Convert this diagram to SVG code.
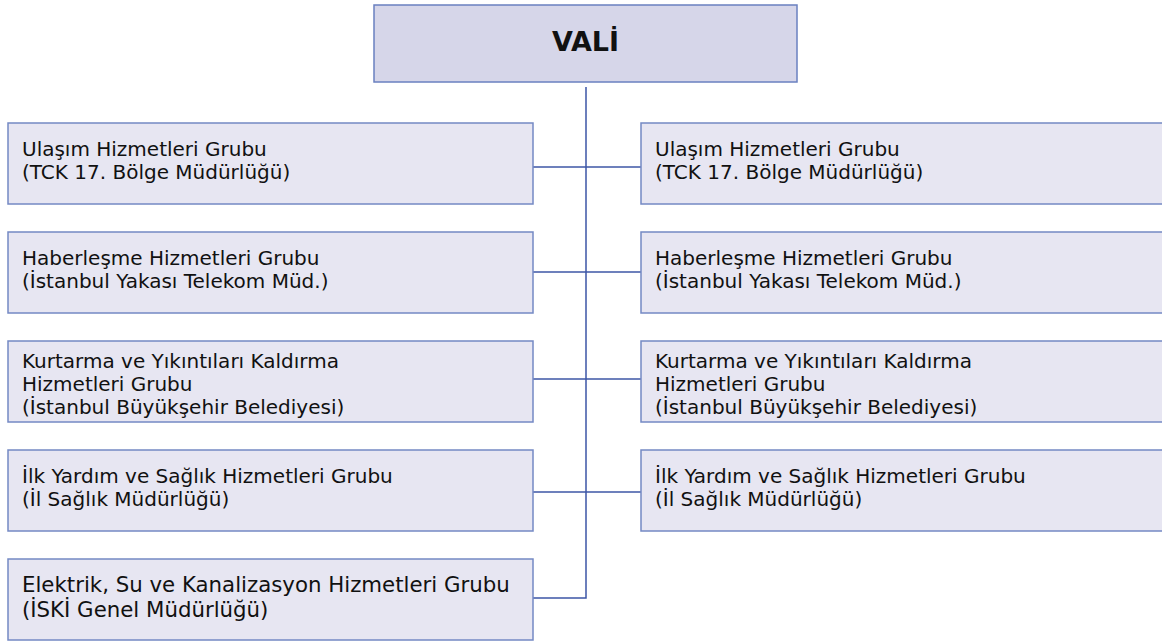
<svg xmlns="http://www.w3.org/2000/svg" width="1162" height="641" viewBox="0 0 1162 641">
<style>
.box{fill:#e7e6f2;stroke:#7489c4;stroke-width:1.5}
.top{fill:#d6d6e9;stroke:#6a80c0;stroke-width:1.5}
.t{font-family:"DejaVu Sans",Verdana,sans-serif;font-size:20px;fill:#111}
.tb{font-family:"DejaVu Sans",Verdana,sans-serif;font-size:27px;font-weight:bold;fill:#111}
.c{fill:none;stroke:#3d56a6;stroke-width:1.5}
</style>
<rect width="1162" height="641" fill="#fff"/>
<g id="connectors">
<path class="c" d="M586 87 V598 H533"/>
<path class="c" d="M533 167 H641"/>
<path class="c" d="M533 272 H641"/>
<path class="c" d="M533 379 H641"/>
<path class="c" d="M533 492 H641"/>
</g>
<g id="vali">
<rect class="top" x="374" y="5" width="423" height="77"/>
<text class="tb" x="585.5" y="51" text-anchor="middle">VALİ</text>
</g>
<g id="l1">
<rect class="box" x="8" y="123" width="525" height="81"/>
<text class="t" x="22" y="156">Ulaşım Hizmetleri Grubu<tspan x="22" dy="23">(TCK 17. Bölge Müdürlüğü)</tspan></text>
</g>
<g id="r1">
<rect class="box" x="641" y="123" width="530" height="81"/>
<text class="t" x="655" y="156">Ulaşım Hizmetleri Grubu<tspan x="655" dy="23">(TCK 17. Bölge Müdürlüğü)</tspan></text>
</g>
<g id="l2">
<rect class="box" x="8" y="232" width="525" height="81"/>
<text class="t" x="22" y="265">Haberleşme Hizmetleri Grubu<tspan x="22" dy="23">(İstanbul Yakası Telekom Müd.)</tspan></text>
</g>
<g id="r2">
<rect class="box" x="641" y="232" width="530" height="81"/>
<text class="t" x="655" y="265">Haberleşme Hizmetleri Grubu<tspan x="655" dy="23">(İstanbul Yakası Telekom Müd.)</tspan></text>
</g>
<g id="l3">
<rect class="box" x="8" y="341" width="525" height="81"/>
<text class="t" x="22" y="368">Kurtarma ve Yıkıntıları Kaldırma<tspan x="22" dy="23">Hizmetleri Grubu</tspan><tspan x="22" dy="23">(İstanbul Büyükşehir Belediyesi)</tspan></text>
</g>
<g id="r3">
<rect class="box" x="641" y="341" width="530" height="81"/>
<text class="t" x="655" y="368">Kurtarma ve Yıkıntıları Kaldırma<tspan x="655" dy="23">Hizmetleri Grubu</tspan><tspan x="655" dy="23">(İstanbul Büyükşehir Belediyesi)</tspan></text>
</g>
<g id="l4">
<rect class="box" x="8" y="450" width="525" height="81"/>
<text class="t" x="22" y="483">İlk Yardım ve Sağlık Hizmetleri Grubu<tspan x="22" dy="23">(İl Sağlık Müdürlüğü)</tspan></text>
</g>
<g id="r4">
<rect class="box" x="641" y="450" width="530" height="81"/>
<text class="t" x="655" y="483">İlk Yardım ve Sağlık Hizmetleri Grubu<tspan x="655" dy="23">(İl Sağlık Müdürlüğü)</tspan></text>
</g>
<g id="l5">
<rect class="box" x="8" y="559" width="525" height="81"/>
<text class="t" x="22" y="592" style="font-size:21.3px">Elektrik, Su ve Kanalizasyon Hizmetleri Grubu<tspan x="22" dy="24.5">(İSKİ Genel Müdürlüğü)</tspan></text>
</g>
</svg>
